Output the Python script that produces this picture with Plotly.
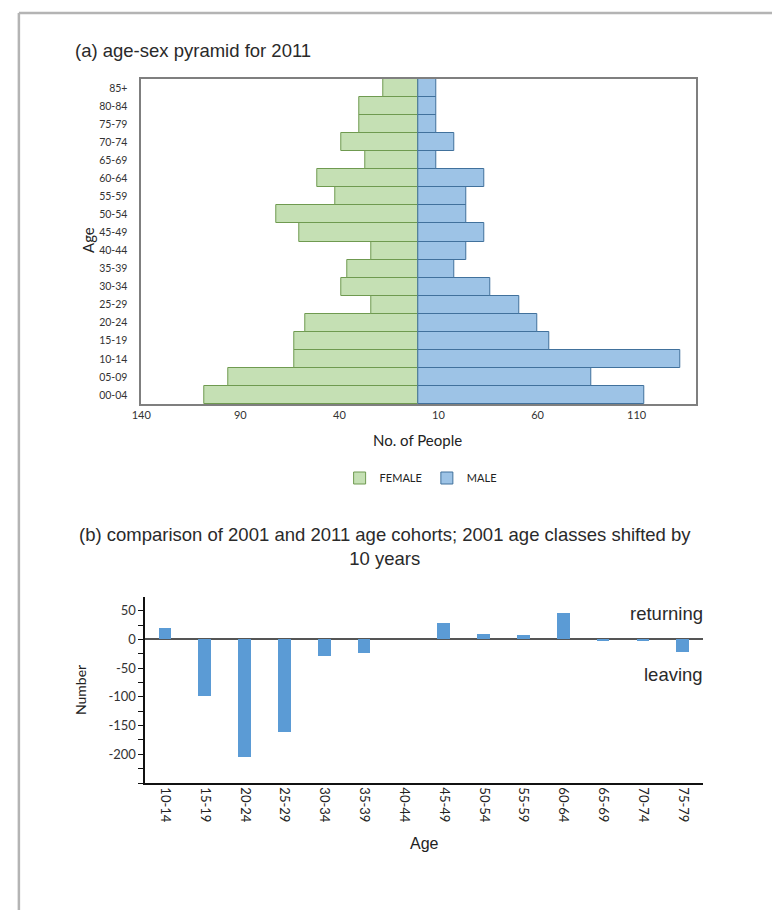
import plotly.graph_objects as go

W, H = 772, 910

# ---------------- data ----------------
age_groups = ["00-04", "05-09", "10-14", "15-19", "20-24", "25-29", "30-34", "35-39",
              "40-44", "45-49", "50-54", "55-59", "60-64", "65-69", "70-74", "75-79",
              "80-84", "85+"]
female = [108, 96, 63, 63, 57, 24, 39, 36, 24, 60, 72, 42, 51, 27, 39, 30, 30, 18]
male = [114, 87, 132, 66, 60, 51, 36, 18, 24, 33, 24, 24, 33, 9, 18, 9, 9, 9]

pyramid_tickvals = [-140, -90, -40, 10, 60, 110]
pyramid_ticktext = ["140", "90", "40", "10", "60", "110"]

cohorts = ["10-14", "15-19", "20-24", "25-29", "30-34", "35-39", "40-44",
           "45-49", "50-54", "55-59", "60-64", "65-69", "70-74", "75-79"]
change = [20, -99, -205, -162, -29, -23, 0, 28, 10, 8, 46, -3, -2, -21]

change_tickvals = [-200, -150, -100, -50, 0, 50]
change_ticktext = ["-200", "-150", "-100", "-50", "0", "50"]


def px(x):
    return x / W


def py(y):
    return 1 - y / H


LABEL_FONT = "Lato, Carlito, 'Liberation Sans', sans-serif"
TITLE_FONT = "'Liberation Sans', Helvetica, Arial, sans-serif"

fig = go.Figure()

fig.add_trace(go.Bar(
    y=age_groups, x=[-v for v in female], orientation="h", name="FEMALE",
    width=1.0,
    marker=dict(color="#c5e0b4", line=dict(color="#6f9a50", width=1)),
    xaxis="x", yaxis="y", showlegend=True,
))
fig.add_trace(go.Bar(
    y=age_groups, x=male, orientation="h", name="MALE",
    width=1.0,
    marker=dict(color="#9dc3e6", line=dict(color="#41719c", width=1)),
    xaxis="x", yaxis="y", showlegend=True,
))

fig.add_trace(go.Bar(
    x=cohorts, y=change, width=0.32,
    marker=dict(color="#5b9bd5", line=dict(width=0)),
    xaxis="x2", yaxis="y2", showlegend=False,
))

fig.update_layout(
    width=W, height=H,
    margin=dict(l=0, r=0, t=0, b=0),
    paper_bgcolor="white", plot_bgcolor="white",
    barmode="relative",
    bargap=0,
    font=dict(family=LABEL_FONT, color="#222"),
    xaxis=dict(
        domain=[px(133), px(695)], anchor="y",
        range=[-140, 140], tickvals=pyramid_tickvals, ticktext=pyramid_ticktext,
        showgrid=False, zeroline=False, showline=True, mirror=True,
        linecolor="#7f7f7f", linewidth=1.5, ticks="",
        tickfont=dict(size=11, family=LABEL_FONT, color="#333"),
    ),
    yaxis=dict(
        domain=[py(404), py(79)], anchor="x", type="category",
        showgrid=False, zeroline=False, showline=True, mirror=True,
        linecolor="#7f7f7f", linewidth=1.5, ticks="",
        ticklabelstandoff=10,
        tickfont=dict(size=10.5, family=LABEL_FONT, color="#333"),
    ),
    xaxis2=dict(
        domain=[px(137), px(702)], anchor="y2", type="category",
        showgrid=False, zeroline=False, showline=True, linecolor="#111",
        linewidth=1.5, ticks="", tickangle=90,
        tickfont=dict(size=13, family=LABEL_FONT, color="#222"),
    ),
    yaxis2=dict(
        domain=[py(783), py(597)], anchor="x2",
        range=[-250, 74], tickvals=change_tickvals, ticktext=change_ticktext,
        showgrid=False, zeroline=True, zerolinecolor="#555", zerolinewidth=1.5,
        showline=True, linecolor="#111", linewidth=1.5,
        ticks="outside", ticklen=5, tickcolor="#111",
        minor=dict(ticks="outside", dtick=25, tick0=0, ticklen=5, tickcolor="#111"),
        tickfont=dict(size=13, family=LABEL_FONT, color="#333"),
    ),
    legend=dict(
        orientation="h", x=px(416), xanchor="center", y=py(478), yanchor="middle",
        font=dict(size=11, family=LABEL_FONT, color="#222"),
        itemwidth=30, bgcolor="rgba(0,0,0,0)",
    ),
)

annotations = [
    dict(text="(a) age-sex pyramid for 2011", x=px(64), y=py(50),
         xanchor="left", yanchor="middle",
         font=dict(size=18.5, family=TITLE_FONT, color="#2a2a2a")),
    dict(text="Age", x=px(79), y=py(240), textangle=-90,
         xanchor="center", yanchor="middle",
         font=dict(size=15, family=LABEL_FONT, color="#222")),
    dict(text="No. of People", x=px(413), y=py(440),
         xanchor="center", yanchor="middle",
         font=dict(size=15, family=LABEL_FONT, color="#222")),
    dict(text="(b) comparison of 2001 and 2011 age cohorts; 2001 age classes shifted by<br>10 years",
         x=px(380), y=py(546), xanchor="center", yanchor="middle", align="center",
         font=dict(size=18.5, family=TITLE_FONT, color="#2a2a2a")),
    dict(text="Number", x=px(71), y=py(690), textangle=-90,
         xanchor="center", yanchor="middle",
         font=dict(size=14, family=LABEL_FONT, color="#222")),
    dict(text="Age", x=px(420), y=py(843),
         xanchor="center", yanchor="middle",
         font=dict(size=16, family=TITLE_FONT, color="#222")),
    dict(text="returning", x=px(704), y=py(613),
         xanchor="right", yanchor="middle",
         font=dict(size=18.5, family=TITLE_FONT, color="#2a2a2a")),
    dict(text="leaving", x=px(704), y=py(674),
         xanchor="right", yanchor="middle",
         font=dict(size=18.5, family=TITLE_FONT, color="#2a2a2a")),
]
for a in annotations:
    a.update(xref="paper", yref="paper", showarrow=False)
fig.update_layout(annotations=annotations)

fig.update_layout(shapes=[
    dict(type="line", xref="paper", yref="paper",
         x0=px(9), x1=1.0, y0=py(13), y1=py(13),
         line=dict(color="#b4b4b4", width=2.5)),
    dict(type="line", xref="paper", yref="paper",
         x0=px(9), x1=px(9), y0=py(13), y1=0.0,
         line=dict(color="#b4b4b4", width=2.5)),
])

fig.write_html(
    "out.html",
    config={"displayModeBar": False},
    post_script="document.body.style.margin='0px';"
                "document.body.style.overflow='hidden';",
)
